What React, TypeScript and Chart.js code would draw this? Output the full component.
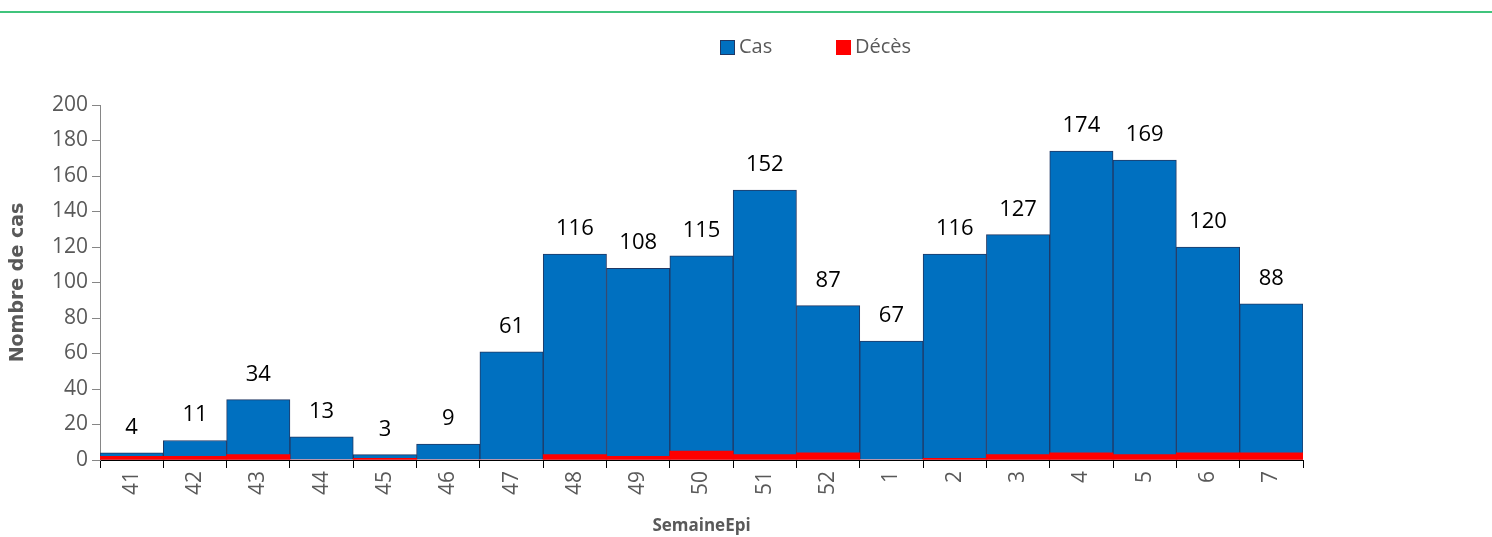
import React, { useEffect, useRef } from "react";
import { Chart, registerables } from "chart.js";

Chart.register(...registerables);

const weeks = ["41", "42", "43", "44", "45", "46", "47", "48", "49", "50", "51", "52", "1", "2", "3", "4", "5", "6", "7"];
const cases = [4, 11, 34, 13, 3, 9, 61, 116, 108, 115, 152, 87, 67, 116, 127, 174, 169, 120, 88];
const deaths = [2, 2, 3, 0, 1, 0, 0, 3, 2, 5, 3, 4, 0, 1, 3, 4, 3, 4, 4];
const yTicks = [0, 20, 40, 60, 80, 100, 120, 140, 160, 180, 200];
const legendLabels = ["Cas", "Décès"];

const FONT = "'Open Sans', Lato, sans-serif";
const CAS_COLOR = "#0070c0";
const CAS_BORDER = "#203864";
const DEC_COLOR = "#ff0000";

const greenLine = {
  id: "greenLine",
  beforeDraw(chart: any) {
    const ctx = chart.ctx;
    ctx.save();
    ctx.strokeStyle = "#00b050";
    ctx.lineWidth = 1.5;
    ctx.beginPath();
    ctx.moveTo(0, 12);
    ctx.lineTo(chart.width, 12);
    ctx.stroke();
    ctx.restore();
  },
};

const customLegend = {
  id: "customLegend",
  afterDraw(chart: any) {
    const ctx = chart.ctx;
    ctx.save();
    ctx.font = `20px ${FONT}`;
    ctx.textBaseline = "middle";
    ctx.textAlign = "left";
    const items = [
      { text: legendLabels[0], x: 720, fill: CAS_COLOR, stroke: CAS_BORDER },
      { text: legendLabels[1], x: 836, fill: DEC_COLOR, stroke: null },
    ];
    const cy = 47.5;
    items.forEach((it) => {
      ctx.fillStyle = it.fill;
      ctx.fillRect(it.x, cy - 7.5, 15, 15);
      if (it.stroke) {
        ctx.strokeStyle = it.stroke;
        ctx.lineWidth = 1;
        ctx.strokeRect(it.x + 0.5, cy - 7, 14, 14);
      }
      ctx.fillStyle = "#595959";
      ctx.fillText(it.text, it.x + 19, cy);
    });
    ctx.restore();
  },
};

const valueLabels = {
  id: "valueLabels",
  afterDatasetsDraw(chart: any) {
    const ctx = chart.ctx;
    const idx = chart.data.datasets.findIndex((d: any) => d.label === "Cas");
    const meta = chart.getDatasetMeta(idx);
    ctx.save();
    ctx.font = `22px ${FONT}`;
    ctx.fillStyle = "#000000";
    ctx.textAlign = "center";
    ctx.textBaseline = "alphabetic";
    meta.data.forEach((bar: any, i: number) => {
      ctx.fillText(String(cases[i]), bar.x, bar.y - 19);
    });
    ctx.restore();
  },
};

export default function App() {
  const ref = useRef<HTMLCanvasElement>(null);
  useEffect(() => {
    const chart = new Chart(ref.current as HTMLCanvasElement, {
      type: "bar",
      data: {
        labels: weeks,
        datasets: [
          {
            label: "Décès",
            data: deaths,
            backgroundColor: DEC_COLOR,
            borderWidth: 0,
            order: 0,
            categoryPercentage: 1,
            barPercentage: 1,
          },
          {
            label: "Cas",
            data: cases,
            backgroundColor: CAS_COLOR,
            borderColor: CAS_BORDER,
            borderWidth: 1,
            order: 1,
            categoryPercentage: 1,
            barPercentage: 1,
          },
        ],
      },
      options: {
        animation: false,
        responsive: true,
        maintainAspectRatio: false,
        layout: { padding: { top: 105, left: 5, right: 189, bottom: 0 } },
        plugins: {
          tooltip: { enabled: false },
          legend: { display: false },
        },
        scales: {
          x: {
            stacked: true,
            offset: true,
            grid: {
              display: true,
              offset: true,
              drawOnChartArea: false,
              drawTicks: true,
              tickLength: 8,
              color: "#000000",
            },
            border: { display: true, color: "#000000", width: 1 },
            ticks: {
              minRotation: 90,
              maxRotation: 90,
              padding: 3,
              color: "#595959",
              font: { family: FONT, size: 21 },
              autoSkip: false,
            },
            title: {
              display: true,
              text: "SemaineEpi",
              color: "#595959",
              font: { family: FONT, size: 17, weight: "bold" },
              padding: { top: 0, bottom: 1 },
            },
            afterFit(s: any) {
              s.height = 77;
            },
          },
          y: {
            stacked: false,
            min: 0,
            max: 200,
            afterBuildTicks(s: any) {
              s.ticks = yTicks.map((v) => ({ value: v }));
            },
            grid: {
              display: true,
              drawOnChartArea: false,
              drawTicks: true,
              tickLength: 8,
              color: "#868686",
            },
            border: { display: true, color: "#868686", width: 1 },
            ticks: {
              padding: 4,
              color: "#595959",
              font: { family: FONT, size: 21 },
            },
            title: {
              display: true,
              text: "Nombre de cas",
              color: "#595959",
              font: { family: "'DejaVu Sans', sans-serif", size: 19, weight: "bold" },
              padding: { top: 2, bottom: 4 },
            },
            afterFit(s: any) {
              s.width = 95;
            },
          },
        },
      },
      plugins: [greenLine, customLegend, valueLabels],
    });
    return () => chart.destroy();
  }, []);
  return (
    <div style={{ position: "absolute", left: 0, top: 0, width: 1492, height: 537 }}>
      <canvas ref={ref} />
    </div>
  );
}
